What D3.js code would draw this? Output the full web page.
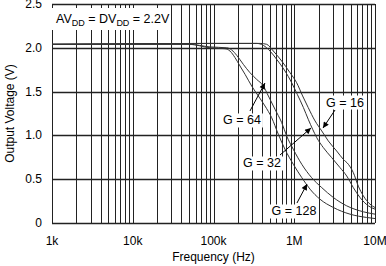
<!DOCTYPE html>
<html>
<head>
<meta charset="utf-8">
<script src="https://cdn.jsdelivr.net/npm/d3@7"></script>
<style>
    body { margin: 0; background: #fff; }
    svg { display: block; }
    text { font-family: "Liberation Sans", Arial, sans-serif; fill: #000; }
</style>
</head>
<body>
<svg id="chart" width="386" height="266"></svg>
<script>
// axis ticks
const x_ticks = [1e3, 1e4, 1e5, 1e6, 1e7];
const x_tick_labels = ['1k', '10k', '100k', '1M', '10M'];
const y_ticks = [0, 0.5, 1, 1.5, 2, 2.5];
const y_tick_labels = ['0', '0.5', '1.0', '1.5', '2.0', '2.5'];

// curves (Hz, V)
const g16_freq = [1e3, 9.05e4, 3.77e5, 4.55e5, 5.51e5, 6.99e5, 8.86e5, 1.07e6, 1.27e6, 1.49e6, 1.81e6, 2.19e6, 2.64e6, 3.35e6, 4.05e6, 4.68e6, 5.39e6, 6.22e6, 7.17e6, 8.67e6, 1e7];
const g16_volt = [2.04, 2.05, 2.05, 2.04, 1.963, 1.849, 1.716, 1.602, 1.45, 1.317, 1.165, 1.051, 0.937, 0.822, 0.727, 0.67, 0.575, 0.42, 0.31, 0.215, 0.177];

const g32_freq = [1e3, 9.05e4, 3.42e5, 4.14e5, 5.01e5, 6.06e5, 7.68e5, 9.29e5, 1.09e6, 1.3e6, 1.49e6, 1.69e6, 1.9e6, 2.29e6, 2.91e6, 3.69e6, 4.46e6, 5.39e6, 6.52e6, 8.27e6, 1e7];
const g32_volt = [2.04, 2.05, 2.05, 2.028, 1.963, 1.868, 1.735, 1.602, 1.469, 1.317, 1.184, 1.07, 0.974, 0.861, 0.746, 0.632, 0.537, 0.404, 0.291, 0.196, 0.158];

const g64_freq = [1e3, 5e4, 9.05e4, 1.46e5, 1.68e5, 1.94e5, 2.34e5, 2.83e5, 3.42e5, 4.14e5, 4.78e5, 5.78e5, 6.99e5, 8.06e5, 9.74e5, 1.24e6, 1.64e6, 2.19e6, 3.05e6, 4.46e6, 7.17e6, 1e7];
const g64_volt = [2.04, 2.04, 2.01, 2.0, 1.975, 1.914, 1.811, 1.716, 1.64, 1.564, 1.45, 1.298, 1.146, 0.993, 0.841, 0.67, 0.518, 0.404, 0.291, 0.196, 0.128, 0.101];

const g128_freq = [1e3, 5e4, 9.05e4, 1.39e5, 1.6e5, 1.85e5, 2.13e5, 2.46e5, 2.97e5, 3.59e5, 4.34e5, 5.25e5, 6.35e5, 7.68e5, 9.74e5, 1.24e6, 1.57e6, 2.08e6, 3.05e6, 4.9e6, 7.89e6, 1e7];
const g128_volt = [2.04, 2.04, 2.0, 1.99, 1.963, 1.887, 1.792, 1.697, 1.564, 1.45, 1.336, 1.203, 1.013, 0.841, 0.67, 0.518, 0.386, 0.272, 0.177, 0.101, 0.063, 0.051];

const series_names = ['G = 16', 'G = 32', 'G = 64', 'G = 128'];

const WIDTH = 386;
const HEIGHT = 266;
const MARGIN = {left: 52, right: 11, top: 4, bottom: 43};
const GRID_COLOR = '#222';
const CURVE_COLOR = '#333';

const svg = d3.select('#chart');

const x = d3.scaleLog()
    .domain([1e3, 1e7])
    .range([MARGIN.left, WIDTH - MARGIN.right]);
const y = d3.scaleLinear()
    .domain([0, 2.5])
    .range([HEIGHT - MARGIN.bottom, MARGIN.top]);

// label / arrow anchors in data space: [label f, label V, tail f, tail V, tip f, tip V]
const annotations = [
    {text: series_names[0], at: [4.25e6, 1.381], tail: [3.2e6, 1.29], tip: [2.27e6, 1.084]},
    {text: series_names[1], at: [3.99e5, 0.685], tail: [6.66e5, 0.776], tip: [1.61e6, 1.084]},
    {text: series_names[2], at: [2.25e5, 1.176], tail: [2.83e5, 1.279], tip: [4.34e5, 1.598]},
    {text: series_names[3], at: [9.93e5, 0.137], tail: [1.08e6, 0.228], tip: [1.44e6, 0.445]},
];

drawGrid();
drawCurves();
drawAxes();
drawSupplyNote();
drawAnnotations();

function drawGrid() {
    const grid = svg.append('g');

    // every minor frequency line, full height
    let minor = [];
    for (let d = 1e3; d < 1e7; d *= 10) {
        for (let m = 1; m < 10; m++) minor.push(d * m);
    }
    minor.push(1e7);

    grid.selectAll('.vline')
        .data(minor)
        .enter().append('line')
        .attr('x1', d => Math.round(x(d)) + 0.5)
        .attr('x2', d => Math.round(x(d)) + 0.5)
        .attr('y1', y(2.5))
        .attr('y2', y(0))
        .attr('stroke', GRID_COLOR)
        .attr('stroke-width', 1);

    grid.selectAll('.hline')
        .data(y_ticks)
        .enter().append('line')
        .attr('x1', x(1e3))
        .attr('x2', x(1e7))
        .attr('y1', d => Math.round(y(d)) + 0.5)
        .attr('y2', d => Math.round(y(d)) + 0.5)
        .attr('stroke', GRID_COLOR)
        .attr('stroke-width', 1.3);
}

function drawCurves() {
    const line = d3.line()
        .x(d => x(d[0]))
        .y(d => y(d[1]))
        .curve(d3.curveMonotoneX);

    const all = [
        d3.zip(g16_freq, g16_volt),
        d3.zip(g32_freq, g32_volt),
        d3.zip(g64_freq, g64_volt),
        d3.zip(g128_freq, g128_volt),
    ];

    svg.append('g').selectAll('path')
        .data(all)
        .enter().append('path')
        .attr('d', line)
        .attr('fill', 'none')
        .attr('stroke', CURVE_COLOR)
        .attr('stroke-width', 1);
}

function drawAxes() {
    svg.append('g').selectAll('text')
        .data(x_ticks)
        .enter().append('text')
        .text((d, i) => x_tick_labels[i])
        .attr('x', d => x(d))
        .attr('y', HEIGHT - MARGIN.bottom + 22)
        .attr('text-anchor', 'middle')
        .attr('font-size', 12);

    svg.append('g').selectAll('text')
        .data(y_ticks)
        .enter().append('text')
        .text((d, i) => y_tick_labels[i])
        .attr('x', MARGIN.left - 10)
        .attr('y', d => y(d) + 4)
        .attr('text-anchor', 'end')
        .attr('font-size', 12);

    svg.append('text')
        .text('Frequency (Hz)')
        .attr('x', (x(1e3) + x(1e7)) / 2)
        .attr('y', HEIGHT - 5)
        .attr('text-anchor', 'middle')
        .attr('font-size', 12);

    svg.append('text')
        .text('Output Voltage (V)')
        .attr('transform', 'translate(14,' + (y(0) + y(2.5)) / 2 + ') rotate(-90)')
        .attr('text-anchor', 'middle')
        .attr('font-size', 12);
}

function drawSupplyNote() {
    svg.append('rect')
        .attr('x', x(1e3))
        .attr('y', 8)
        .attr('width', 117)
        .attr('height', 22)
        .attr('fill', '#fff');

    const t = svg.append('text')
        .attr('x', x(1e3) + 4)
        .attr('y', 23)
        .attr('font-size', 12.5);
    t.append('tspan').text('AV');
    t.append('tspan').text('DD').attr('font-size', 9).attr('dy', 3);
    t.append('tspan').text(' = DV').attr('dy', -3);
    t.append('tspan').text('DD').attr('font-size', 9).attr('dy', 3);
    t.append('tspan').text(' = 2.2V').attr('dy', -3);
}

function drawAnnotations() {
    svg.append('defs').append('marker')
        .attr('id', 'head')
        .attr('viewBox', '0 0 10 10')
        .attr('refX', 10)
        .attr('refY', 5)
        .attr('markerWidth', 9)
        .attr('markerHeight', 6)
        .attr('markerUnits', 'userSpaceOnUse')
        .attr('orient', 'auto')
        .append('path')
        .attr('d', 'M0,0L10,5L0,10Z')
        .attr('fill', '#000');

    const g = svg.append('g');
    _each(annotations, a => {
        g.append('line')
            .attr('x1', x(a.tail[0]))
            .attr('y1', y(a.tail[1]))
            .attr('x2', x(a.tip[0]))
            .attr('y2', y(a.tip[1]))
            .attr('stroke', '#000')
            .attr('stroke-width', 1)
            .attr('marker-end', 'url(#head)');

        const t = g.append('text')
            .text(a.text)
            .attr('x', x(a.at[0]))
            .attr('y', y(a.at[1]) + 4.5)
            .attr('text-anchor', 'middle')
            .attr('font-size', 12.5);
        const bb = t.node().getBBox();
        g.insert('rect', () => t.node())
            .attr('x', bb.x - 2)
            .attr('y', bb.y)
            .attr('width', bb.width + 4)
            .attr('height', bb.height)
            .attr('fill', '#fff');
    });
}

function _each(arr, fn) {
    arr.forEach(fn);
}
</script>
</body>
</html>
